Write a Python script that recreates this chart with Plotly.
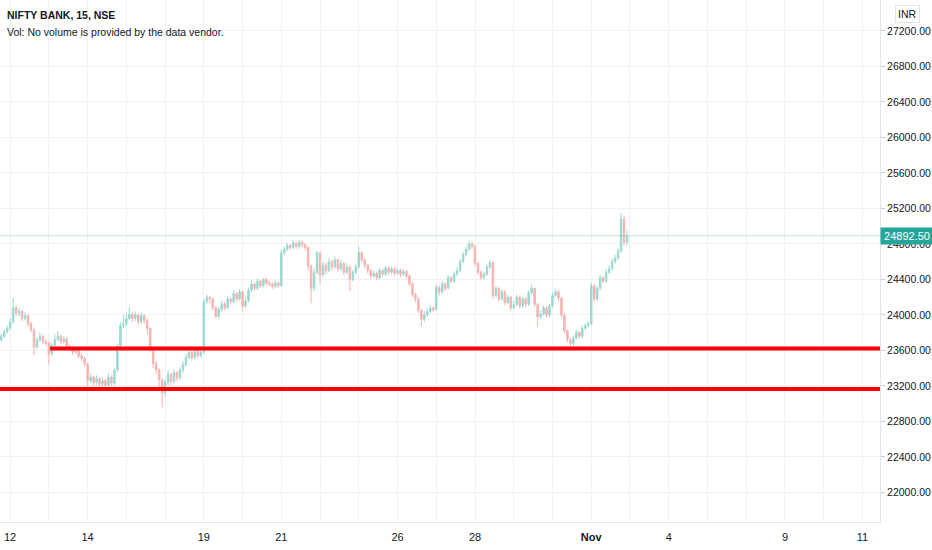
import plotly.graph_objects as go

# ---- data (bar index based, ~half-hour buckets) ----
opens = [23720,23760,23810,23850,23920,24080,24020,24040,23960,23990,23900,23830,23640,23720,23760,23700,
         23680,23560,23660,23720,23760,23700,23730,23640,23620,23580,23600,23540,23510,
         23450,23260,23300,23240,23280,23220,23260,23210,23300,23230,23380,23650,23880,
         23900,23960,24010,23960,24000,23920,23990,23940,23850,23620,23450,23380,23270,
         23120,23240,23330,23250,23350,23290,23380,23440,23520,23580,23520,23600,23540,
         23580,24150,24200,24180,24080,23980,24060,24120,24080,24180,24150,24240,24180,
         24260,24100,24160,24280,24350,24300,24380,24330,24400,24360,24350,24320,24360,
         24330,24700,24740,24780,24760,24810,24770,24820,24790,24760,24550,24300,24480,
         24700,24450,24560,24500,24600,24540,24620,24520,24580,24480,24540,24400,24480,
         24540,24700,24620,24560,24500,24440,24470,24420,24500,24460,24530,24480,24520,
         24470,24500,24460,24490,24440,24350,24230,24180,24050,23950,24000,24040,24080,
         24060,24310,24260,24350,24300,24420,24380,24460,24500,24600,24680,24740,24800,
         24770,24580,24480,24420,24460,24540,24590,24220,24300,24180,24260,24140,24200,
         24080,24120,24200,24100,24180,24120,24250,24300,24120,23980,24010,24080,24000,
         24100,24220,24260,24190,24000,23820,23720,23680,23740,23800,23760,23850,23880,
         23900,24330,24180,24300,24420,24380,24480,24520,24600,24640,24720,25080,24820]
highs = [23790,23840,23880,23960,24190,24110,24080,24060,24030,24010,23920,23850,23750,23800,23780,23730,
         23700,23690,23780,23820,23780,23760,23750,23670,23650,23630,23620,23570,23530,
         23460,23340,23320,23320,23300,23300,23280,23340,23320,23400,23680,23920,24000,
         24020,24090,24040,24040,24020,24030,24010,23960,23860,23640,23480,23400,23290,
         23280,23380,23350,23390,23370,23420,23480,23560,23630,23600,23630,23620,23610,
         24180,24230,24210,24190,24100,24090,24160,24150,24210,24200,24280,24260,24290,
         24270,24200,24310,24390,24370,24410,24400,24420,24420,24390,24370,24390,24380,
         24740,24770,24810,24800,24840,24830,24850,24840,24810,24770,24570,24520,24730,
         24710,24600,24590,24640,24620,24660,24640,24620,24600,24580,24560,24510,24580,
         24770,24720,24640,24580,24520,24500,24490,24530,24520,24560,24550,24550,24540,
         24530,24520,24520,24510,24460,24370,24250,24200,24070,24040,24080,24110,24100,
         24340,24330,24380,24370,24450,24440,24490,24540,24630,24710,24770,24830,24820,
         24790,24600,24500,24490,24570,24620,24600,24330,24320,24290,24280,24230,24210,
         24160,24230,24220,24210,24200,24280,24340,24310,24140,24050,24110,24100,24130,
         24250,24290,24280,24200,24020,23840,23750,23770,23830,23820,23880,23910,23930,
         24370,24350,24330,24450,24440,24510,24560,24630,24680,24750,25150,25120,24950]
lows = [23700,23740,23790,23830,23900,23990,23990,23930,23940,23870,23800,23550,23620,23700,23670,23650,
        23440,23540,23640,23700,23670,23680,23620,23590,23550,23560,23510,23480,23420,
        23200,23230,23200,23210,23180,23190,23170,23190,23200,23210,23360,23630,23850,
        23870,23940,23920,23930,23880,23900,23900,23780,23580,23400,23330,23170,22960,
        23080,23210,23210,23230,23250,23270,23350,23420,23500,23480,23500,23510,23520,
        23560,24120,24130,24050,23960,23960,24040,24050,24060,24120,24130,24150,24160,
        24040,24080,24140,24260,24270,24280,24300,24310,24330,24320,24290,24300,24300,
        24320,24680,24720,24730,24740,24740,24750,24760,24720,24500,24130,24270,24460,
        24350,24430,24460,24480,24500,24520,24490,24500,24450,24460,24270,24380,24460,
        24520,24590,24530,24470,24410,24420,24390,24400,24430,24440,24450,24460,24440,
        24450,24430,24440,24410,24320,24200,24140,24020,23870,23920,23980,24020,24030,
        24050,24220,24240,24270,24290,24350,24360,24440,24480,24580,24660,24720,24740,
        24550,24450,24390,24400,24440,24520,24180,24200,24150,24160,24110,24120,24050,
        24060,24100,24070,24080,24090,24100,24230,24090,23870,23950,23990,23970,23980,
        24080,24200,24160,23970,23790,23690,23640,23650,23720,23730,23740,23830,23860,
        23890,24140,24160,24280,24350,24360,24460,24500,24580,24620,24700,24780,24790]
closes = [23760,23810,23850,23920,24080,24020,24040,23960,23990,23900,23830,23640,23720,23760,23700,23680,
          23560,23660,23720,23760,23700,23730,23640,23620,23580,23600,23540,23510,23450,
          23260,23300,23240,23280,23220,23260,23210,23300,23230,23380,23650,23880,23900,
          23960,24010,23960,24000,23920,23990,23940,23850,23620,23450,23380,23270,23120,
          23240,23330,23250,23350,23290,23380,23440,23520,23580,23520,23600,23540,23580,
          24150,24200,24180,24080,23980,24060,24120,24080,24180,24150,24240,24180,24260,
          24100,24160,24280,24350,24300,24380,24330,24400,24360,24350,24320,24360,24330,
          24700,24740,24780,24760,24810,24770,24820,24790,24760,24550,24300,24480,24700,
          24450,24560,24500,24600,24540,24620,24520,24580,24480,24540,24400,24480,24540,
          24700,24620,24560,24500,24440,24470,24420,24500,24460,24530,24480,24520,24470,
          24500,24460,24490,24440,24350,24230,24180,24050,23950,24000,24040,24080,24060,
          24310,24260,24350,24300,24420,24380,24460,24500,24600,24680,24740,24800,24770,
          24580,24480,24420,24460,24540,24590,24220,24300,24180,24260,24140,24200,24080,
          24120,24200,24100,24180,24120,24250,24300,24120,23980,24010,24080,24000,24100,
          24220,24260,24190,24000,23820,23720,23680,23740,23800,23760,23850,23880,23900,
          24330,24180,24300,24420,24380,24480,24520,24600,24640,24720,25080,24820,24892.5]

# day starts (bar index) and their labels
day_starts = [3, 16, 29, 42, 55, 68, 81, 94, 107, 120, 133, 146, 159, 172, 185, 198,
              211, 224, 237, 250, 263, 276, 289]
day_labels = ["12", "", "14", "", "", "19", "", "21", "", "", "26", "", "28", "", "", "<b>Nov</b>",
              "", "4", "", "", "9", "", "11"]
price_ticks = [22000, 22400, 22800, 23200, 23600, 24000, 24400, 24800, 25200, 25600, 26000,
               26400, 26800, 27200]
support_levels = [23622, 23166]
support_start = [16.4, -0.4]
last_price = 24892.5

x = list(range(len(closes)))
FONT = "Liberation Sans, Arial, sans-serif"

fig = go.Figure()
fig.add_trace(go.Candlestick(
    x=x, open=opens, high=highs, low=lows, close=closes,
    increasing=dict(line=dict(color="#9cd8d1", width=1), fillcolor="#9cd8d1"),
    decreasing=dict(line=dict(color="#f7b3b1", width=1), fillcolor="#f7b3b1"),
    whiskerwidth=0, showlegend=False, hoverinfo="skip"))

for lvl, x0 in zip(support_levels, support_start):
    fig.add_shape(type="line", xref="x", yref="y", x0=x0, x1=300, y0=lvl, y1=lvl,
                  line=dict(color="#ff0000", width=4))

fig.add_shape(type="line", xref="paper", yref="y", x0=0, x1=1, y0=last_price, y1=last_price,
              line=dict(color="rgba(38,166,154,0.3)", width=1))

fig.add_annotation(xref="paper", yref="y", x=1.0, y=last_price, xanchor="left", yanchor="middle",
                   text=f"{last_price:.2f}", showarrow=False, bgcolor="#26a69a",
                   font=dict(family=FONT, size=11, color="white"), width=48, height=12, borderpad=2)

fig.add_annotation(xref="paper", yref="paper", x=1.0307, y=0.9732, xanchor="center", yanchor="middle",
                   text="INR", showarrow=False, bordercolor="#e0e3eb", borderwidth=1, borderpad=2,
                   font=dict(family=FONT, size=10.5, color="#131722"), bgcolor="white")

fig.add_annotation(xref="paper", yref="paper", x=0.006, y=0.971, xanchor="left", yanchor="middle",
                   text="<b>NIFTY BANK, 15, NSE</b>", showarrow=False,
                   font=dict(family=FONT, size=10.5, color="#131722"))
fig.add_annotation(xref="paper", yref="paper", x=0.006, y=0.938, xanchor="left", yanchor="middle",
                   text="Vol: No volume is provided by the data vendor.", showarrow=False,
                   font=dict(family=FONT, size=10.5, color="#131722"))

fig.update_layout(
    template="none",
    width=932, height=550,
    margin=dict(l=0, r=52, t=0, b=28, pad=0),
    paper_bgcolor="white", plot_bgcolor="white",
    font=dict(family=FONT, size=11, color="#131722"),
    xaxis=dict(range=[-0.4, 294.9], tickvals=day_starts, ticktext=day_labels, automargin=False,
               showgrid=True, gridcolor="#eef1f7", gridwidth=1, zeroline=False,
               showline=True, linecolor="#e0e3eb", ticks="outside", ticklen=5,
               tickcolor="rgba(0,0,0,0)", rangeslider=dict(visible=False),
               tickfont=dict(family=FONT, size=11, color="#131722"), fixedrange=True),
    yaxis=dict(side="right", range=[21667, 27549], tickvals=price_ticks, automargin=False,
               ticktext=[f"{v:.2f}" for v in price_ticks],
               showgrid=True, gridcolor="#eef1f7", gridwidth=1, zeroline=False,
               showline=True, linecolor="#e0e3eb", ticks="outside", ticklen=4, tickcolor="#c8cbd2",
               tickfont=dict(family=FONT, size=10.5, color="#131722"), fixedrange=True),
)

fig.write_html("out.html", config={"displayModeBar": False},
               post_script="document.body.style.margin='0';document.body.style.overflow='hidden';")
